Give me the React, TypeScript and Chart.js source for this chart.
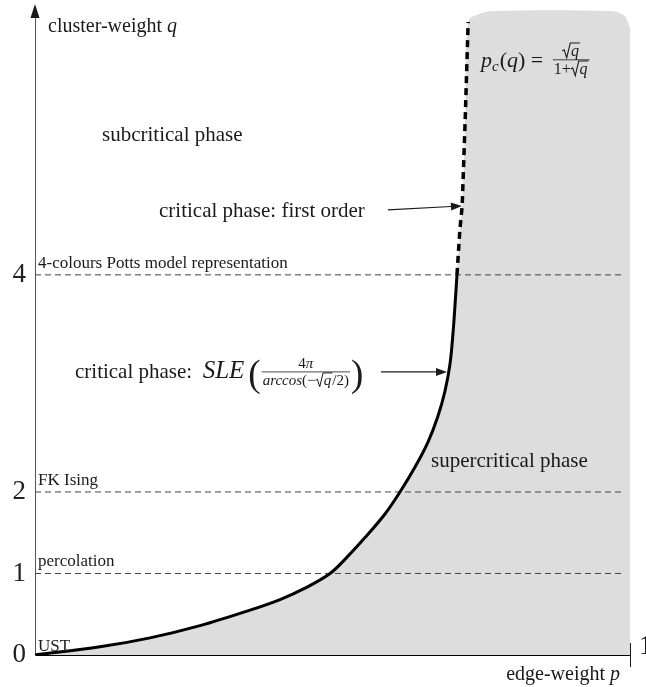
import React, { useEffect, useRef } from "react";
import { Chart, registerables } from "chart.js";

Chart.register(...registerables);

// ---- data (edge-weight p on x, cluster-weight q on y) ----
const CURVE_P = [0, 0.1092, 0.1933, 0.2773, 0.3613, 0.4118, 0.4538, 0.4958, 0.5244, 0.5546, 0.5882, 0.6134, 0.6387, 0.6605, 0.6773, 0.6891, 0.6975, 0.7025, 0.7059, 0.7092];
const CURVE_Q = [0, 0.1, 0.21, 0.36, 0.55, 0.68, 0.82, 1.0, 1.2, 1.44, 1.73, 2.0, 2.23, 2.46, 2.7, 2.93, 3.18, 3.46, 3.72, 4.0];
const FIRST_ORDER_P = [0.7092, 0.714, 0.718, 0.723, 0.728];
const FIRST_ORDER_Q = [4.0, 4.41, 4.64, 5.43, 6.33];
const REGION_TOP_P = [0.745, 0.77, 0.965, 0.99, 1.0];
const REGION_TOP_Q = [6.4, 6.43, 6.43, 6.39, 6.28];
const REF_Q = [1, 2, 4];
const REF_LABELS = ["percolation", "FK Ising", "4-colours Potts model representation"];
const Y_TICKS = [0, 1, 2, 4];
const X_TICKS = [1];
const Q_MAX = 6.44;

// the vertical axis of the figure is stretched above q = 2
const STRETCH = 1.3315;
function qToAxis(q: number) {
  return q <= 2 ? q : 2 + (q - 2) * STRETCH;
}

const FONT = "'Liberation Serif', 'Times New Roman', serif";
const font = (size: number, italic = false) => `${italic ? "italic " : ""}${size}px ${FONT}`;

type Run = { t: string; size: number; italic?: boolean; dy?: number };
function drawRuns(ctx: CanvasRenderingContext2D, runs: Run[], x: number, base: number) {
  let cx = x;
  for (const r of runs) {
    ctx.font = font(r.size, r.italic);
    ctx.fillText(r.t, cx, base + (r.dy || 0));
    cx += ctx.measureText(r.t).width;
  }
  return cx;
}
function runsWidth(ctx: CanvasRenderingContext2D, runs: Run[]) {
  let w = 0;
  for (const r of runs) {
    ctx.font = font(r.size, r.italic);
    w += ctx.measureText(r.t).width;
  }
  return w;
}
function sqrtWidth(ctx: CanvasRenderingContext2D, size: number) {
  ctx.font = font(size, true);
  return size * 0.55 + ctx.measureText("q").width + 1;
}
function drawSqrt(ctx: CanvasRenderingContext2D, x: number, base: number, size: number) {
  const w0 = size * 0.55;
  ctx.font = font(size, true);
  const tw = ctx.measureText("q").width;
  ctx.beginPath();
  ctx.lineWidth = Math.max(0.8, size / 15);
  ctx.moveTo(x, base - size * 0.3);
  ctx.lineTo(x + size * 0.12, base - size * 0.38);
  ctx.lineTo(x + size * 0.28, base + size * 0.12);
  ctx.lineTo(x + size * 0.5, base - size * 0.8);
  ctx.lineTo(x + w0 + tw + 1, base - size * 0.8);
  ctx.stroke();
  ctx.fillText("q", x + w0, base);
  return w0 + tw + 1;
}
function arrow(ctx: CanvasRenderingContext2D, x1: number, y1: number, x2: number, y2: number) {
  const a = Math.atan2(y2 - y1, x2 - x1);
  const L = 11, H = 4;
  ctx.beginPath();
  ctx.lineWidth = 1.2;
  ctx.moveTo(x1, y1);
  ctx.lineTo(x2 - L * Math.cos(a), y2 - L * Math.sin(a));
  ctx.stroke();
  ctx.beginPath();
  ctx.moveTo(x2, y2);
  ctx.lineTo(x2 - L * Math.cos(a) + H * Math.sin(a), y2 - L * Math.sin(a) - H * Math.cos(a));
  ctx.lineTo(x2 - L * Math.cos(a) - H * Math.sin(a), y2 - L * Math.sin(a) + H * Math.cos(a));
  ctx.closePath();
  ctx.fill();
}

// annotation anchors, in axis units (p, stretched q)
const TEXT_LABELS = [
  { text: "subcritical phase", p: 0.1126, u: 6.307 },
  { text: "critical phase: first order", p: 0.2084, u: 5.374 },
  { text: "supercritical phase", p: 0.6655, u: 2.307 },
];
const SLE_ANCHOR = { p: 0.0672, u: 3.399 };
const FORMULA_ANCHOR = { p: 0.7496, u: 7.215 };
const ARROWS = [
  { p1: 0.5933, u1: 5.46, p2: 0.7176, u2: 5.509 },
  { p1: 0.5815, u1: 3.472, p2: 0.6924, u2: 3.472 },
];

const annotations = {
  id: "annotations",
  afterDraw(chart: any) {
    const ctx: CanvasRenderingContext2D = chart.ctx;
    const xs = chart.scales.x, ys = chart.scales.y;
    const X = (p: number) => xs.getPixelForValue(p);
    const Y = (u: number) => ys.getPixelForValue(u);
    const area = chart.chartArea;
    ctx.save();
    ctx.fillStyle = "#1a1a1a";
    ctx.strokeStyle = "#1a1a1a";
    ctx.textBaseline = "alphabetic";
    ctx.textAlign = "left";

    // y-axis arrowhead
    ctx.beginPath();
    ctx.moveTo(area.left, area.top - 6);
    ctx.lineTo(area.left - 4.5, area.top + 8);
    ctx.lineTo(area.left + 4.5, area.top + 8);
    ctx.closePath();
    ctx.fill();

    // x tick at p = 1
    for (const t of X_TICKS) {
      const x = X(t);
      ctx.beginPath();
      ctx.lineWidth = 1;
      ctx.moveTo(x + 0.5, area.bottom - 12);
      ctx.lineTo(x + 0.5, area.bottom + 12);
      ctx.stroke();
      ctx.font = font(27);
      ctx.fillText(String(t), x + 9, area.bottom - 1);
    }

    // axis titles
    drawRuns(ctx, [{ t: "cluster-weight ", size: 20 }, { t: "q", size: 20, italic: true }], area.left + 13, area.top + 22);
    const tw = runsWidth(ctx, [{ t: "edge-weight ", size: 20 }, { t: "p", size: 20, italic: true }]);
    drawRuns(ctx, [{ t: "edge-weight ", size: 20 }, { t: "p", size: 20, italic: true }], area.right - 10 - tw, area.bottom + 25);

    // reference-line labels
    REF_Q.forEach((q, i) => {
      ctx.font = font(17);
      ctx.fillText(REF_LABELS[i], X(0) + 3, Y(qToAxis(q)) - 7);
    });
    ctx.font = font(17);
    ctx.fillText("UST", X(0) + 3, Y(0) - 4);

    // phase labels
    for (const l of TEXT_LABELS) {
      ctx.font = font(21);
      ctx.fillText(l.text, X(l.p), Y(l.u));
    }

    // SLE label
    {
      const base = Y(SLE_ANCHOR.u);
      let cx = drawRuns(ctx, [{ t: "critical phase:  ", size: 21 }, { t: "SLE", size: 25, italic: true }], X(SLE_ANCHOR.p), base);
      cx += 4;
      ctx.font = font(37);
      ctx.fillText("(", cx, base + 8);
      cx += ctx.measureText("(").width + 1;
      const fs = 15;
      const barY = base - 6;
      const denRunsA: Run[] = [{ t: "arccos", size: fs, italic: true }, { t: "(−", size: fs }];
      const denRunsB: Run[] = [{ t: "/2)", size: fs }];
      const denW = runsWidth(ctx, denRunsA) + sqrtWidth(ctx, fs) + runsWidth(ctx, denRunsB);
      const numRuns: Run[] = [{ t: "4", size: fs }, { t: "π", size: fs, italic: true }];
      const numW = runsWidth(ctx, numRuns);
      const fw = Math.max(denW, numW) + 2;
      drawRuns(ctx, numRuns, cx + (fw - numW) / 2, barY - 4);
      ctx.beginPath();
      ctx.lineWidth = 0.8;
      ctx.moveTo(cx, barY);
      ctx.lineTo(cx + fw, barY);
      ctx.stroke();
      let dx = drawRuns(ctx, denRunsA, cx + 1, barY + 13);
      dx += drawSqrt(ctx, dx, barY + 13, fs);
      drawRuns(ctx, denRunsB, dx, barY + 13);
      cx += fw + 1;
      ctx.font = font(37);
      ctx.fillText(")", cx, base + 8);
    }

    // p_c formula
    {
      const base = Y(FORMULA_ANCHOR.u);
      let cx = drawRuns(ctx, [{ t: "p", size: 22, italic: true }], X(FORMULA_ANCHOR.p), base);
      cx = drawRuns(ctx, [{ t: "c", size: 15, italic: true }], cx, base + 4);
      cx = drawRuns(ctx, [{ t: "(", size: 22 }, { t: "q", size: 22, italic: true }, { t: ") = ", size: 22 }], cx + 1, base);
      cx += 4;
      const fs = 16;
      const barY = base - 7;
      const numW = sqrtWidth(ctx, fs);
      const one: Run[] = [{ t: "1+", size: fs }];
      const denW = runsWidth(ctx, one) + sqrtWidth(ctx, fs);
      const fw = Math.max(numW, denW) + 2;
      drawSqrt(ctx, cx + (fw - numW) / 2, barY - 4, fs);
      ctx.beginPath();
      ctx.lineWidth = 0.8;
      ctx.moveTo(cx, barY);
      ctx.lineTo(cx + fw, barY);
      ctx.stroke();
      const dx = drawRuns(ctx, one, cx + 1, barY + 14);
      drawSqrt(ctx, dx, barY + 14, fs);
    }

    // arrows
    for (const a of ARROWS) arrow(ctx, X(a.p1), Y(a.u1), X(a.p2), Y(a.u2));

    ctx.restore();
  },
};

const noPad = (s: any) => {
  s.paddingTop = 0;
  s.paddingBottom = 0;
  s.paddingLeft = 0;
  s.paddingRight = 0;
};

export default function App() {
  const ref = useRef<HTMLCanvasElement>(null);
  useEffect(() => {
    const canvas = ref.current!;
    const pts = (P: number[], Q: number[]) => P.map((p, i) => ({ x: p, y: qToAxis(Q[i]) }));
    const curve = pts(CURVE_P, CURVE_Q);
    const first = pts(FIRST_ORDER_P, FIRST_ORDER_Q);
    const top = pts(REGION_TOP_P, REGION_TOP_Q);
    const region = [...curve, ...first.slice(1), ...top];
    const REF_END = 0.99;
    const datasets: any[] = [
      { data: curve, borderColor: "#000", borderWidth: 3, pointRadius: 0, tension: 0.35, fill: false, order: 1 },
      { data: first, borderColor: "#000", borderWidth: 3.5, borderDash: [7, 5], pointRadius: 0, fill: false, order: 1 },
      ...REF_Q.map((q) => ({
        data: [{ x: 0, y: qToAxis(q) }, { x: REF_END, y: qToAxis(q) }],
        borderColor: "#444", borderWidth: 1, borderDash: [6, 4], pointRadius: 0, fill: false, order: 2,
      })),
      { data: region, borderColor: "rgba(0,0,0,0)", borderWidth: 0, backgroundColor: "#dddddd", fill: "origin", pointRadius: 0, tension: 0.35, order: 3 },
    ];
    const chart = new Chart(canvas, {
      type: "line",
      data: { datasets },
      options: {
        animation: false,
        responsive: false,
        events: [],
        layout: { autoPadding: false, padding: { left: 0, top: 10, right: 16, bottom: 32 } },
        plugins: { legend: { display: false }, tooltip: { enabled: false } },
        scales: {
          x: {
            type: "linear", min: 0, max: 1,
            grid: { display: false, drawTicks: false },
            ticks: { display: false },
            border: { display: true, color: "#000", width: 1 },
            afterFit: (s: any) => { s.height = 0; noPad(s); },
          },
          y: {
            type: "linear", min: 0, max: qToAxis(Q_MAX), position: "left",
            grid: { display: false, drawTicks: false },
            border: { display: true, color: "#555", width: 1 },
            afterBuildTicks: (s: any) => { s.ticks = Y_TICKS.map((q) => ({ value: qToAxis(q) })); },
            ticks: {
              autoSkip: false,
              padding: 9,
              color: "#222",
              font: { family: FONT, size: 27 },
              callback: (_v: any, i: number) => String(Y_TICKS[i]),
            },
            afterFit: (s: any) => { s.width = 35; noPad(s); },
          },
        },
      } as any,
      plugins: [annotations],
    });
    return () => chart.destroy();
  }, []);
  return (
    <div style={{ position: "absolute", left: 0, top: 0, width: 646, height: 687, background: "#fff" }}>
      <canvas ref={ref} width={646} height={687} style={{ display: "block", width: 646, height: 687 }} />
    </div>
  );
}
